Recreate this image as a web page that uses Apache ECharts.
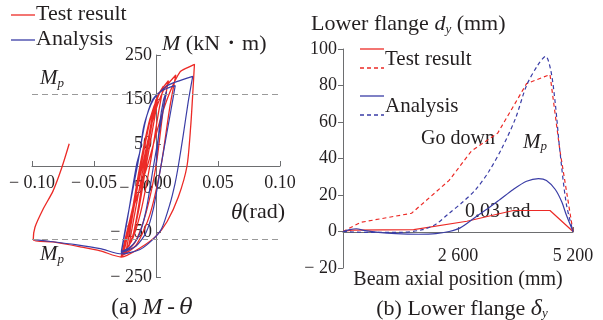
<!DOCTYPE html>
<html>
<head>
<meta charset="utf-8">
<script src="https://cdn.jsdelivr.net/npm/echarts@6/dist/echarts.min.js"></script>
<style>
  html, body { margin: 0; padding: 0; background: #fff; }
  #chart { width: 603px; height: 320px; }
</style>
</head>
<body>
<div id="chart"></div>
<script>
// (a) M-theta hysteresis, points are [theta (rad), M (kN·m)]
const testHysteresis = [
  [-0.010, 0], [-0.005, 80], [-0.002, 125], [0.000, 150],
  [-0.003, 100], [-0.009, 0], [-0.014, -90], [-0.018, -150], [-0.022, -182],
  [-0.018, -120], [-0.010, 0], [-0.004, 90], [0.000, 140], [0.002, 165],
  [-0.001, 110], [-0.008, 0], [-0.014, -100], [-0.019, -160], [-0.024, -190],
  [-0.020, -130], [-0.012, 0], [-0.005, 100], [0.001, 155], [0.006, 180],
  [0.002, 120], [-0.005, 0], [-0.012, -100], [-0.019, -165], [-0.026, -196],
  [-0.021, -130], [-0.013, 0], [-0.005, 105], [0.003, 165], [0.010, 192],
  [0.006, 130], [0.000, 0], [-0.008, -105], [-0.017, -172], [-0.027, -200],
  [-0.021, -120], [-0.011, 0], [-0.003, 100], [0.006, 170], [0.016, 205],
  [0.011, 130], [0.004, 0], [-0.005, -110], [-0.016, -178], [-0.028, -203],
  [-0.020, -110], [-0.007, 0], [0.003, 100], [0.011, 165], [0.0194, 212], [0.025, 221], [0.031, 229],
  [0.030, 180], [0.028, 90], [0.025, 0], [0.018, -70], [0.009, -125], [0.000, -158], [-0.012, -183], [-0.028, -205],
  [-0.045, -191], [-0.061, -182], [-0.083, -171], [-0.099, -166],
  [-0.0976, -138], [-0.091, -97], [-0.083, -56], [-0.076, -4], [-0.070, 50]
];
const analysisHysteresis = [
  [0, 0], [0.003, 95], [0.006, 148], [0.0085, 168],
  [0.006, 130], [-0.002, 0], [-0.008, -100], [-0.014, -158], [-0.021, -183], [-0.028, -193],
  [-0.024, -130], [-0.015, 0], [-0.009, 95], [-0.003, 148], [0.003, 166], [0.009, 175], [0.0155, 181],
  [0.012, 125], [0.004, 0], [-0.002, -95], [-0.008, -150], [-0.016, -180], [-0.028, -195],
  [-0.024, -135], [-0.0156, 4], [-0.0129, 33], [-0.0102, 85], [-0.006, 125], [-0.0022, 149],
  [0.0019, 163], [0.0086, 180], [0.0167, 190], [0.0296, 202],
  [0.026, 145], [0.022, 70], [0.018, 0], [0.0153, -40], [0.0113, -85], [0.0046, -141],
  [-0.002, -164], [-0.0129, -188], [-0.0277, -198],
  [-0.045, -186], [-0.065, -177], [-0.085, -170], [-0.098, -166]
];
const mpLevels = [162, -164];
const thetaTicks = [-0.1, -0.05, 0, 0.05, 0.1];
const thetaLabels = ['\u2212 0.10', '\u2212 0.05', '0.00', '0.05', '0.10'];
const momentTicks = [-250, -150, -50, 50, 150, 250];
const momentLabels = ['\u2212 250', '\u2212 150', '\u2212 50', '50', '150', '250'];

// (b) lower flange deflection, points are [beam axial position (mm), dy (mm)]
const testMp = [
  [0, 0], [400, 5], [1550, 10], [2400, 28], [2900, 44], [3500, 54],
  [4150, 81], [4680, 86], [4900, 45], [5200, 0]
];
const test003 = [
  [0, 0], [200, 0.8], [1600, 1], [2800, 5.6], [3850, 11.5], [4680, 11.5], [5200, 0]
];
const analysisMp = [
  [0, 0], [600, -0.5], [1300, -0.5], [1800, 1], [2100, 4], [2400, 10], [2700, 16],
  [3000, 23], [3300, 33], [3600, 46], [3900, 62], [4150, 80], [4400, 91], [4580, 96],
  [4700, 88], [4800, 70], [4900, 45], [5050, 15], [5200, 0]
];
const analysis003 = [
  [0, 0], [150, 1], [300, 1.5], [500, 0.5], [800, -0.5], [1200, -1.2], [1700, -1.5],
  [2100, -1.2], [2400, 0], [2650, 2], [3000, 8], [3300, 13], [3550, 17.5], [3850, 23],
  [4150, 27.5], [4420, 29], [4600, 28], [4800, 23], [4950, 16], [5050, 9], [5200, 0]
];
const posTicks = [0, 2600, 5200];
const posLabels = ['', '2 600', '5 200'];
const dyTicks = [-20, 0, 20, 40, 60, 80, 100];
const dyLabels = ['\u2212 20', '0', '20', '40', '60', '80', '100'];
const notes = [
  { name: 'Go down', value: [2600, 51] },
  { name: '{i|M}{s|p}', value: [4340, 49] },
  { name: '0.03 rad', value: [3500, 11] }
];

const RED = '#ec2a26';
const BLUE = '#3a3da6';
const FONT = '"Liberation Serif", "Times New Roman", serif';
const TXT = '#231f20';
const AXIS = '#6d6e70';

const rich = {
  i: { fontStyle: 'italic', fontFamily: FONT, fontSize: 21, color: TXT },
  s: { fontStyle: 'italic', fontFamily: FONT, fontSize: 13, color: TXT, padding: [10, 0, 0, 0] }
};

function lookup(ticks, labels) {
  return (v) => {
    const i = ticks.findIndex((t) => Math.abs(t - v) < 1e-9);
    return i < 0 ? '' : labels[i];
  };
}

function legendKey(x, y, color, dashed) {
  return {
    type: 'line', silent: true,
    shape: { x1: x, y1: y, x2: x + 24, y2: y },
    style: { stroke: color, lineWidth: 1.3, lineDash: dashed ? [4, 3] : null }
  };
}

function legendText(x, y, text, size) {
  return {
    type: 'text', left: x, top: y, silent: true,
    style: { text: text, font: size + 'px ' + FONT, fill: TXT }
  };
}

const chart = echarts.init(document.getElementById('chart'));

const option = {
  animation: false,
  backgroundColor: '#fff',
  textStyle: { fontFamily: FONT, color: TXT },
  title: [
    {
      text: '(a) {i|M}\u2009-\u2009{t|\u03b8}',
      left: 147, top: 291, textAlign: 'center',
      textStyle: {
        fontFamily: FONT, fontSize: 23, fontWeight: 'normal', color: TXT,
        rich: {
          i: { fontStyle: 'italic', fontFamily: FONT, fontSize: 24, color: TXT },
          t: { fontStyle: 'italic', fontFamily: '"DejaVu Serif", serif', fontSize: 22, color: TXT }
        }
      }
    },
    {
      text: '(b) Lower flange {d|\u03b4}{s|y}',
      left: 457, top: 292, textAlign: 'center',
      textStyle: {
        fontFamily: FONT, fontSize: 22, fontWeight: 'normal', color: TXT,
        rich: { d: { fontStyle: 'italic', fontFamily: FONT, fontSize: 24, color: TXT }, s: rich.s }
      }
    },
    {
      text: 'Lower flange {i|d}{s|y} (mm)',
      left: 306, top: 8,
      textStyle: {
        fontFamily: FONT, fontSize: 22, fontWeight: 'normal', color: TXT,
        rich: { i: { fontStyle: 'italic', fontFamily: FONT, fontSize: 22, color: TXT }, s: rich.s }
      }
    }
  ],
  grid: [
    { left: 32, top: 55, width: 248, height: 222, outerBoundsMode: 'none' },
    { left: 343, top: 49, width: 230, height: 219, outerBoundsMode: 'none' }
  ],
  xAxis: [
    {
      gridIndex: 0, type: 'value', min: -0.1, max: 0.1, interval: 0.05,
      position: 'bottom', offset: -111,
      name: '{i|\u03b8}(rad)', nameLocation: 'end', nameGap: 5,
      nameTextStyle: {
        fontFamily: FONT, fontSize: 22, color: TXT, align: 'right', verticalAlign: 'top', padding: [35, 0, 0, 0],
        rich: { i: { fontStyle: 'italic', fontFamily: FONT, fontSize: 23, color: TXT } }
      },
      axisLine: { onZero: false, lineStyle: { color: AXIS, width: 1 } },
      axisTick: { inside: true, length: 5, lineStyle: { color: AXIS } },
      axisLabel: { fontFamily: FONT, fontSize: 18, color: TXT, margin: 8, formatter: lookup(thetaTicks, thetaLabels) },
      splitLine: { show: false }
    },
    {
      gridIndex: 1, type: 'value', min: 0, max: 5200, interval: 2600,
      position: 'bottom', offset: -36,
      name: 'Beam axial position (mm)', nameLocation: 'middle', nameGap: 34,
      nameTextStyle: { fontFamily: FONT, fontSize: 20, color: TXT },
      axisLine: { onZero: false, lineStyle: { color: AXIS, width: 1 } },
      axisTick: { inside: true, length: 5, lineStyle: { color: AXIS } },
      axisLabel: { fontFamily: FONT, fontSize: 18, color: TXT, margin: 15, formatter: lookup(posTicks, posLabels) },
      splitLine: { show: false }
    }
  ],
  yAxis: [
    {
      gridIndex: 0, type: 'value', min: -250, max: 250, interval: 100,
      position: 'left', offset: -124,
      name: '{i|M} (kN\u30fbm)', nameLocation: 'end', nameGap: 0,
      nameTextStyle: {
        fontFamily: FONT, fontSize: 22, color: TXT, align: 'left', padding: [0, 0, 0, 6],
        rich: { i: { fontStyle: 'italic', fontFamily: FONT, fontSize: 22, color: TXT } }
      },
      axisLine: { onZero: false, lineStyle: { color: AXIS, width: 1 } },
      axisTick: { inside: true, length: 5, lineStyle: { color: AXIS } },
      axisLabel: { fontFamily: FONT, fontSize: 18, color: TXT, margin: 4, formatter: lookup(momentTicks, momentLabels) },
      splitLine: { show: false }
    },
    {
      gridIndex: 1, type: 'value', min: -20, max: 100, interval: 20,
      axisLine: { show: true, onZero: false, lineStyle: { color: AXIS, width: 1 } },
      axisTick: { show: true, length: 5, lineStyle: { color: AXIS } },
      axisLabel: { fontFamily: FONT, fontSize: 18, color: TXT, margin: 6, formatter: lookup(dyTicks, dyLabels) },
      splitLine: { show: false }
    }
  ],
  series: [
    {
      name: 'Test result', type: 'line', xAxisIndex: 0, yAxisIndex: 0,
      data: testHysteresis, symbol: 'none', smooth: 0.25,
      lineStyle: { color: RED, width: 1.3 }, itemStyle: { color: RED },
      markLine: {
        silent: true, symbol: 'none',
        lineStyle: { color: '#9a9a9a', type: [6, 4], width: 1.2 },
        label: { formatter: '{i|M}{s|p}', rich: rich },
        data: [
          { yAxis: mpLevels[0], label: { position: 'insideStartTop', distance: [8, 4] } },
          { yAxis: mpLevels[1], label: { position: 'insideStartBottom', distance: [8, 4] } }
        ]
      }
    },
    {
      name: 'Analysis', type: 'line', xAxisIndex: 0, yAxisIndex: 0,
      data: analysisHysteresis, symbol: 'none', smooth: 0.25,
      lineStyle: { color: BLUE, width: 1.2 }, itemStyle: { color: BLUE }
    },
    {
      name: 'Test Mp', type: 'line', xAxisIndex: 1, yAxisIndex: 1,
      data: testMp, symbol: 'none',
      lineStyle: { color: RED, width: 1.2, type: [4, 3] }
    },
    {
      name: 'Test 0.03 rad', type: 'line', xAxisIndex: 1, yAxisIndex: 1,
      data: test003, symbol: 'none',
      lineStyle: { color: RED, width: 1.2 }
    },
    {
      name: 'Analysis Mp', type: 'line', xAxisIndex: 1, yAxisIndex: 1,
      data: analysisMp, symbol: 'none', smooth: 0.3,
      lineStyle: { color: BLUE, width: 1.2, type: [4, 3] }
    },
    {
      name: 'Analysis 0.03 rad', type: 'line', xAxisIndex: 1, yAxisIndex: 1,
      data: analysis003, symbol: 'none', smooth: 0.3,
      lineStyle: { color: BLUE, width: 1.2 }
    },
    {
      name: 'notes', type: 'scatter', xAxisIndex: 1, yAxisIndex: 1,
      data: notes, symbolSize: 0, silent: true,
      itemStyle: { color: '#fff', opacity: 1 },
      label: {
        show: true, position: [0, 0], align: 'center', verticalAlign: 'middle',
        fontFamily: FONT, fontSize: 20, color: TXT, opacity: 1,
        textBorderWidth: 0,
        rich: rich,
        formatter: (p) => p.name
      }
    }
  ],
  graphic: [
    legendKey(11, 15, RED, false),
    legendText(36, 3, 'Test result', 22),
    legendKey(11, 40, BLUE, false),
    legendText(36, 28, 'Analysis', 22),
    legendKey(360, 49, RED, false),
    legendKey(360, 68, RED, true),
    legendText(385, 49, 'Test result', 21),
    legendKey(360, 96, BLUE, false),
    legendKey(360, 115, BLUE, true),
    legendText(385, 96, 'Analysis', 21)
  ]
};

chart.setOption(option);
</script>
</body>
</html>
